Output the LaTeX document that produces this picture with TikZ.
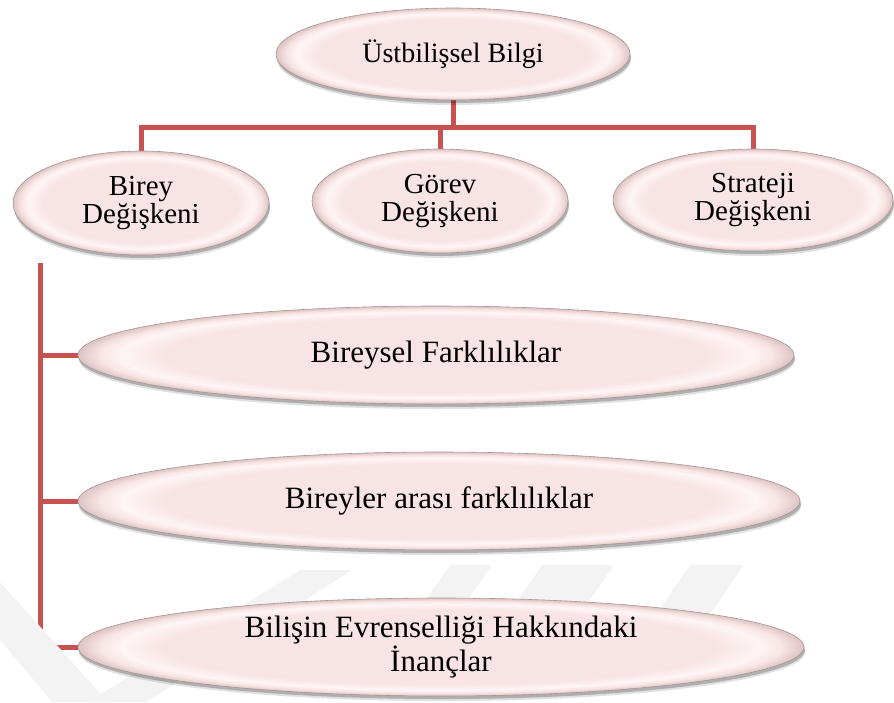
\documentclass[tikz,border=0pt]{standalone}
\usepackage{fontspec}
\setmainfont{Liberation Serif}
\usetikzlibrary{shapes.geometric,shadows,backgrounds}

\definecolor{pinkin}{RGB}{248,228,228}
\definecolor{pinkhi}{RGB}{254,245,245}
\definecolor{pinkedge}{RGB}{222,196,196}
\definecolor{rimc}{RGB}{170,148,148}
\definecolor{linkred}{RGB}{200,82,80}
\definecolor{markgrey}{RGB}{243,243,243}

% bevelled oval fill: flat centre, light ring, darker rim
\pgfdeclareradialshading{bevel}{\pgfpoint{0bp}{0bp}}{%
  color(0bp)=(pinkin); color(19bp)=(pinkin); color(22bp)=(pinkhi);
  color(23.5bp)=(pinkin); color(25bp)=(pinkedge); color(50bp)=(pinkedge)}

\tikzset{
  oval/.style={ellipse, draw=rimc, line width=0.6pt, shade, shading=bevel,
    inner sep=0pt, align=center, text=black,
    drop shadow={shadow xshift=1pt, shadow yshift=-5pt, opacity=0.12, fill=black},
    drop shadow={shadow xshift=1pt, shadow yshift=-3pt, opacity=0.22, fill=black}},
  link/.style={draw=linkred, line width=5pt, line join=miter},
  topfont/.style={font=\fontsize{28}{30}\selectfont},
  midfont/.style={font=\fontsize{29}{28}\selectfont},
  lowfont/.style={font=\fontsize{31}{30}\selectfont},
}

\begin{document}
\begin{tikzpicture}[x=1pt,y=-1pt]
\useasboundingbox (0,0) rectangle (894,702);

% faint background mark
\fill[markgrey] (0,582) -- (0,640) -- (52,702) -- (108,702) -- cycle;
\fill[markgrey] (88,702) -- (146,702) -- (352,570) -- (300,570) -- cycle;
\fill[markgrey] (450,565) -- (492,565) -- (440,640) -- (398,640) -- cycle;
\fill[markgrey] (542,565) -- (614,565) -- (562,640) -- (490,640) -- cycle;
\fill[markgrey] (690,565) -- (744,565) -- (692,640) -- (638,640) -- cycle;

% nodes
\node[oval, topfont, minimum width=354pt, minimum height=92pt] (top) at (453,54) {Üstbilişsel Bilgi};
\node[oval, midfont, minimum width=256pt, minimum height=104pt] (birey) at (141,203) {Birey\\Değişkeni};
\node[oval, midfont, minimum width=256pt, minimum height=104pt] (gorev) at (440,201) {Görev\\Değişkeni};
\node[oval, midfont, minimum width=280pt, minimum height=102pt] (strat) at (753,200) {Strateji\\Değişkeni};

\node[oval, lowfont, minimum width=716pt, minimum height=98pt] (b1) at (436,355) {Bireysel Farklılıklar};
\node[oval, lowfont, minimum width=722pt, minimum height=98pt] (b2) at (439,501) {Bireyler arası farklılıklar};
\node[oval, lowfont, minimum width=726pt, minimum height=98pt] (b3) at (441,647) {Bilişin Evrenselliği Hakkındaki\\İnançlar};

\coordinate (bus) at (453,127);
\coordinate (spine) at (40,263);

\begin{pgfonlayer}{background}
  \draw[link] (top.south) -- (top.south |- bus);
  \draw[link] (birey.north) |- (strat.north |- bus) -- (strat.north);
  \draw[link] (gorev.north |- bus) -- (gorev.north);
  \draw[link] (spine) |- (b3.west);
  \draw[link] (spine |- b1.west) -- (b1.west);
  \draw[link] (spine |- b2.west) -- (b2.west);
\end{pgfonlayer}
\end{tikzpicture}
\end{document}
